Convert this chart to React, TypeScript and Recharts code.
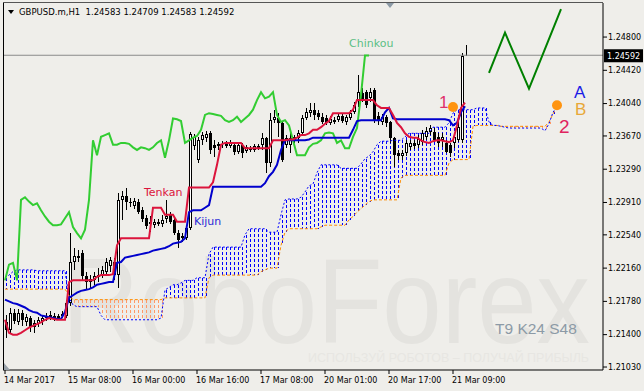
import React from 'react';
import { ComposedChart, Bar, Line, XAxis, YAxis, ReferenceLine, ReferenceDot, Label } from 'recharts';

// GBPUSD.m H1 with Ichimoku (T9 K24 S48)
const symbol = 'GBPUSD.m,H1';

const open = [
  1.2154, 1.2145, 1.2165, 1.2154, 1.2165, 1.2154, 1.2159, 1.2149, 1.2152, 1.2156,
  1.2159, 1.2160, 1.2161, 1.2159, 1.2161, 1.2161, 1.2176, 1.2223, 1.2230, 1.2233,
  1.2207, 1.2200, 1.2202, 1.2206, 1.2208, 1.2212, 1.2218, 1.2223, 1.2208, 1.2294,
  1.2298, 1.2292, 1.2287, 1.2292, 1.2282, 1.2273, 1.2269, 1.2265, 1.2269, 1.2266,
  1.2272, 1.2277, 1.2271, 1.2256, 1.2250, 1.2250, 1.2262, 1.2355, 1.2340, 1.2362,
  1.2365, 1.2370, 1.2357, 1.2358, 1.2357, 1.2358, 1.2355, 1.2357, 1.2349, 1.2357,
  1.2350, 1.2353, 1.2351, 1.2355, 1.2357, 1.2365, 1.2336, 1.2385, 1.2387, 1.2382,
  1.2357, 1.2357, 1.2362, 1.2365, 1.2370, 1.2387, 1.2393, 1.2397, 1.2393, 1.2389,
  1.2387, 1.2382, 1.2385, 1.2385, 1.2390, 1.2383, 1.2387, 1.2394, 1.2408, 1.2416,
  1.2417, 1.2410, 1.2420, 1.2390, 1.2383, 1.2389, 1.2383, 1.2365, 1.2347, 1.2344,
  1.2347, 1.2354, 1.2359, 1.2357, 1.2360, 1.2366, 1.2371, 1.2371, 1.2366, 1.2362,
  1.2359, 1.2357, 1.2359, 1.2362, 1.2362, 1.24583,
];
const close = [
  1.2145, 1.2165, 1.2156, 1.2165, 1.2157, 1.2160, 1.2149, 1.2153, 1.2157, 1.2159,
  1.2161, 1.2162, 1.2159, 1.2161, 1.2164, 1.2176, 1.2223, 1.2230, 1.2228, 1.2207,
  1.2200, 1.2204, 1.2207, 1.2208, 1.2214, 1.2223, 1.2225, 1.2208, 1.2294, 1.2298,
  1.2292, 1.2290, 1.2293, 1.2280, 1.2272, 1.2264, 1.2266, 1.2269, 1.2266, 1.2271,
  1.2275, 1.2269, 1.2256, 1.2248, 1.2253, 1.2262, 1.2369, 1.2366, 1.2362, 1.2368,
  1.2369, 1.2351, 1.2353, 1.2355, 1.2358, 1.2355, 1.2359, 1.2349, 1.2357, 1.2347,
  1.2354, 1.2351, 1.2355, 1.2353, 1.2365, 1.2336, 1.2385, 1.2389, 1.2382, 1.2340,
  1.2365, 1.2365, 1.2366, 1.2370, 1.2387, 1.2394, 1.2397, 1.2391, 1.2389, 1.2383,
  1.2382, 1.2386, 1.2383, 1.2390, 1.2384, 1.2389, 1.2393, 1.2402, 1.2417, 1.2409,
  1.2402, 1.2417, 1.2385, 1.2384, 1.2389, 1.2382, 1.2365, 1.2345, 1.2344, 1.2347,
  1.2359, 1.2359, 1.2355, 1.2363, 1.2370, 1.2373, 1.2376, 1.2362, 1.2359, 1.2366,
  1.2349, 1.2347, 1.2366, 1.2377, 1.2458, 1.24592,
];
const high = [
  1.2162, 1.2171, 1.2169, 1.2169, 1.2168, 1.2164, 1.2161, 1.2157, 1.2160, 1.2162,
  1.2165, 1.2167, 1.2165, 1.2164, 1.2167, 1.2180, 1.2256, 1.2239, 1.2237, 1.2237,
  1.2212, 1.2208, 1.2212, 1.2216, 1.2218, 1.2228, 1.2229, 1.2228, 1.2302, 1.2304,
  1.2308, 1.2296, 1.2296, 1.2295, 1.2286, 1.2277, 1.2275, 1.2272, 1.2272, 1.2277,
  1.2294, 1.2280, 1.2274, 1.2260, 1.2256, 1.2265, 1.2371, 1.2369, 1.2366, 1.2371,
  1.2373, 1.2373, 1.2362, 1.2360, 1.2361, 1.2361, 1.2362, 1.2360, 1.2359, 1.2359,
  1.2357, 1.2355, 1.2358, 1.2358, 1.2370, 1.2366, 1.2393, 1.2397, 1.2393, 1.2383,
  1.2368, 1.2370, 1.2368, 1.2374, 1.2391, 1.2399, 1.2405, 1.2405, 1.2397, 1.2393,
  1.2391, 1.2390, 1.2389, 1.2393, 1.2392, 1.2391, 1.2397, 1.2406, 1.2437, 1.2422,
  1.2420, 1.2422, 1.2422, 1.2394, 1.2392, 1.2391, 1.2384, 1.2366, 1.2351, 1.2351,
  1.2362, 1.2362, 1.2362, 1.2368, 1.2374, 1.2377, 1.2379, 1.2376, 1.2370, 1.2370,
  1.2362, 1.2359, 1.2370, 1.2383, 1.2462, 1.24709,
];
const low = [
  1.2136, 1.2142, 1.2152, 1.2151, 1.2150, 1.2150, 1.2143, 1.2142, 1.2149, 1.2151,
  1.2156, 1.2157, 1.2156, 1.2157, 1.2159, 1.2159, 1.2173, 1.2214, 1.2223, 1.2202,
  1.2191, 1.2193, 1.2197, 1.2200, 1.2205, 1.2207, 1.2212, 1.2202, 1.2193, 1.2271,
  1.2282, 1.2286, 1.2284, 1.2278, 1.2269, 1.2261, 1.2257, 1.2262, 1.2264, 1.2263,
  1.2268, 1.2266, 1.2254, 1.2239, 1.2246, 1.2248, 1.2260, 1.2351, 1.2336, 1.2357,
  1.2360, 1.2346, 1.2343, 1.2351, 1.2353, 1.2353, 1.2353, 1.2345, 1.2346, 1.2342,
  1.2347, 1.2349, 1.2349, 1.2351, 1.2351, 1.2325, 1.2331, 1.2382, 1.2366, 1.2337,
  1.2353, 1.2347, 1.2359, 1.2359, 1.2368, 1.2385, 1.2389, 1.2385, 1.2385, 1.2381,
  1.2379, 1.2379, 1.2381, 1.2383, 1.2382, 1.2379, 1.2385, 1.2392, 1.2400, 1.2406,
  1.2399, 1.2406, 1.2382, 1.2379, 1.2379, 1.2377, 1.2359, 1.2331, 1.2340, 1.2340,
  1.2344, 1.2351, 1.2352, 1.2353, 1.2357, 1.2362, 1.2368, 1.2360, 1.2354, 1.2354,
  1.2347, 1.2343, 1.2353, 1.2360, 1.2359, 1.24583,
];

const tenkan = [
  1.2157, 1.2142, 1.2140, 1.2140, 1.2142, 1.2145, 1.2148, 1.2150, 1.2152, 1.2154,
  1.2157, 1.2159, 1.2158, 1.2157, 1.2157, 1.2157, 1.2200, 1.2202, 1.2202, 1.2202,
  1.2202, 1.2202, 1.2202, 1.2206, 1.2208, 1.2208, 1.2208, 1.2209, 1.2242, 1.2250,
  1.2250, 1.2250, 1.2250, 1.2250, 1.2250, 1.2250, 1.2250, 1.2285, 1.2285, 1.2285,
  1.2277, 1.2277, 1.2277, 1.2269, 1.2269, 1.2269, 1.2308, 1.2308, 1.2308, 1.2308,
  1.2308, 1.2308, 1.2314, 1.2334, 1.2357, 1.2359, 1.2359, 1.2359, 1.2359, 1.2359,
  1.2353, 1.2353, 1.2353, 1.2353, 1.2353, 1.2353, 1.2353, 1.2362, 1.2362, 1.2362,
  1.2362, 1.2363, 1.2363, 1.2365, 1.2368, 1.2368, 1.2370, 1.2374, 1.2374, 1.2377,
  1.2381, 1.2384, 1.2393, 1.2393, 1.2393, 1.2393, 1.2393, 1.2397, 1.2408, 1.2408,
  1.2408, 1.2408, 1.2408, 1.2402, 1.2399, 1.2399, 1.2399, 1.2391, 1.2382, 1.2377,
  1.2370, 1.2366, 1.2365, 1.2365, 1.2362, 1.2360, 1.2359, 1.2361, 1.2362, 1.2362,
  1.2361, 1.2360, 1.2362, 1.2379, 1.2399, 1.2405,
];
const kijun = [
  1.2180, 1.2178, 1.2176, 1.2175, 1.2173, 1.2171, 1.2168, 1.2166, 1.2165, 1.2162,
  1.2161, 1.2160, 1.2159, 1.2158, 1.2158, 1.2166, 1.2182, 1.2185, 1.2188, 1.2190,
  1.2191, 1.2192, 1.2194, 1.2197, 1.2198, 1.2199, 1.2200, 1.2200, 1.2222, 1.2223,
  1.2228, 1.2229, 1.2230, 1.2231, 1.2232, 1.2233, 1.2234, 1.2236, 1.2237, 1.2238,
  1.2239, 1.2241, 1.2244, 1.2245, 1.2246, 1.2250, 1.2280, 1.2282, 1.2282, 1.2282,
  1.2285, 1.2288, 1.2309, 1.2309, 1.2309, 1.2309, 1.2309, 1.2309, 1.2309, 1.2309,
  1.2309, 1.2309, 1.2309, 1.2309, 1.2309, 1.2313, 1.2321, 1.2326, 1.2334, 1.2351,
  1.2362, 1.2362, 1.2362, 1.2362, 1.2362, 1.2362, 1.2363, 1.2365, 1.2365, 1.2365,
  1.2365, 1.2365, 1.2365, 1.2365, 1.2365, 1.2365, 1.2365, 1.2374, 1.2384, 1.2385,
  1.2385, 1.2385, 1.2385, 1.2385, 1.2385, 1.2394, 1.2399, 1.2387, 1.2386, 1.2386,
  1.2386, 1.2386, 1.2386, 1.2386, 1.2386, 1.2386, 1.2386, 1.2386, 1.2386, 1.2386,
  1.2386, 1.2385, 1.2379, 1.2382, 1.2394, 1.2401,
];
const chinkou = [
  1.2202, 1.2220, 1.2222, 1.2202, 1.2294, 1.2297, 1.2292, 1.2288, 1.2290, 1.2282,
  1.2275, 1.2269, 1.2265, 1.2265, 1.2266, 1.2273, 1.2280, 1.2263, 1.2256, 1.2250,
  1.2260, 1.2294, 1.2362, 1.2345, 1.2366, 1.2368, 1.2370, 1.2357, 1.2357, 1.2359,
  1.2359, 1.2358, 1.2354, 1.2351, 1.2354, 1.2353, 1.2351, 1.2354, 1.2359, 1.2362,
  1.2342, 1.2362, 1.2387, 1.2386, 1.2384, 1.2359, 1.2362, 1.2365, 1.2367, 1.2374,
  1.2391, 1.2393, 1.2392, 1.2391, 1.2390, 1.2385, 1.2383, 1.2385, 1.2389, 1.2383,
  1.2387, 1.2391, 1.2397, 1.2408, 1.2417, 1.2410, 1.2412, 1.2417, 1.2391, 1.2383,
  1.2385, 1.2379, 1.2362, 1.2345, 1.2345, 1.2345, 1.2354, 1.2358, 1.2359, 1.2362,
  1.2370, 1.2371, 1.2370, 1.2359, 1.2362, 1.2353, 1.2353, 1.2366, 1.2376, 1.2414,
  1.2459, 1.2459,
];
const spanA = [
  1.2205, 1.2208, 1.2212, 1.2214, 1.2214, 1.2214, 1.2214, 1.2214, 1.2213, 1.2213,
  1.2213, 1.2213, 1.2213, 1.2213, 1.2213, 1.2213, 1.2182, 1.2174, 1.2172, 1.2172,
  1.2172, 1.2172, 1.2172, 1.2172, 1.2162, 1.2157, 1.2157, 1.2157, 1.2157, 1.2157,
  1.2157, 1.2157, 1.2157, 1.2157, 1.2157, 1.2157, 1.2157, 1.2157, 1.2157, 1.2159,
  1.2191, 1.2194, 1.2197, 1.2197, 1.2199, 1.2202, 1.2202, 1.2202, 1.2205, 1.2205,
  1.2205, 1.2232, 1.2240, 1.2240, 1.2240, 1.2240, 1.2240, 1.2240, 1.2240, 1.2240,
  1.2254, 1.2261, 1.2261, 1.2261, 1.2261, 1.2261, 1.2257, 1.2257, 1.2257, 1.2277,
  1.2294, 1.2295, 1.2295, 1.2295, 1.2297, 1.2303, 1.2310, 1.2312, 1.2325, 1.2334,
  1.2334, 1.2334, 1.2334, 1.2334, 1.2330, 1.2330, 1.2330, 1.2330, 1.2330, 1.2335,
  1.2341, 1.2344, 1.2349, 1.2357, 1.2361, 1.2361, 1.2361, 1.2362, 1.2362, 1.2362,
  1.2366, 1.2370, 1.2370, 1.2370, 1.2370, 1.2370, 1.2370, 1.2377, 1.2377, 1.2377,
  1.2377, 1.2382, 1.2393, 1.2397, 1.2397, 1.2397, 1.2397, 1.2397, 1.2399, 1.2399,
  1.2399, 1.2383, 1.2379, 1.2379, 1.2378, 1.2377, 1.2376, 1.2376, 1.2376, 1.2376,
  1.2376, 1.2376, 1.2376, 1.2376, 1.2376, 1.2373, 1.2381, 1.2394, 1.2401,
];
const spanB = [
  1.2192, 1.2192, 1.2192, 1.2192, 1.2192, 1.2192, 1.2192, 1.2192, 1.2192, 1.2192,
  1.2192, 1.2192, 1.2192, 1.2192, 1.2192, 1.2192, 1.2185, 1.2180, 1.2180, 1.2180,
  1.2180, 1.2180, 1.2180, 1.2180, 1.2180, 1.2180, 1.2180, 1.2180, 1.2180, 1.2180,
  1.2180, 1.2180, 1.2180, 1.2180, 1.2180, 1.2180, 1.2180, 1.2180, 1.2180, 1.2180,
  1.2182, 1.2182, 1.2182, 1.2182, 1.2182, 1.2182, 1.2182, 1.2182, 1.2182, 1.2182,
  1.2182, 1.2205, 1.2208, 1.2208, 1.2208, 1.2208, 1.2208, 1.2208, 1.2208, 1.2208,
  1.2208, 1.2208, 1.2208, 1.2208, 1.2212, 1.2214, 1.2216, 1.2216, 1.2216, 1.2242,
  1.2257, 1.2261, 1.2261, 1.2261, 1.2261, 1.2261, 1.2261, 1.2261, 1.2261, 1.2263,
  1.2265, 1.2265, 1.2265, 1.2265, 1.2265, 1.2265, 1.2271, 1.2275, 1.2280, 1.2284,
  1.2288, 1.2292, 1.2294, 1.2294, 1.2294, 1.2294, 1.2294, 1.2294, 1.2294, 1.2319,
  1.2322, 1.2322, 1.2322, 1.2322, 1.2322, 1.2322, 1.2322, 1.2322, 1.2322, 1.2322,
  1.2322, 1.2336, 1.2340, 1.2340, 1.2340, 1.2340, 1.2340, 1.2378, 1.2379, 1.2379,
  1.2379, 1.2379, 1.2379, 1.2379, 1.2378, 1.2378, 1.2378, 1.2378, 1.2378, 1.2378,
  1.2378, 1.2378, 1.2378, 1.2378, 1.2378, 1.2378, 1.2383, 1.2392, 1.2401,
];

// hand drawn forecast zigzag
const forecastIdx = [121, 125, 131, 139];
const forecastVal = [1.2439, 1.2485, 1.2421, 1.2512];

const timeTickIdx = [0, 16, 32, 48, 64, 80, 96, 112];
const timeLabels = ['14 Mar 2017', '15 Mar 08:00', '16 Mar 00:00', '16 Mar 16:00', '17 Mar 08:00', '20 Mar 01:00', '20 Mar 17:00', '21 Mar 09:00'];
const priceTicks = [1.2103, 1.214, 1.2178, 1.2216, 1.2254, 1.2291, 1.2329, 1.2367, 1.2404, 1.2442, 1.248];
const lastPrice = 1.24592;
const SLOTS = 150;

const rows = Array.from({ length: SLOTS }, (_, i) => {
  const a = spanA[i];
  const b = spanB[i];
  const fi = forecastIdx.indexOf(i);
  return {
    i,
    o: open[i],
    h: high[i],
    l: low[i],
    c: close[i],
    hl: i < open.length ? [low[i], high[i]] : null,
    tenkan: tenkan[i] ?? null,
    kijun: kijun[i] ?? null,
    chinkou: chinkou[i] ?? null,
    spanA: a ?? null,
    spanB: b ?? null,
    cloud: a !== undefined && b !== undefined ? [Math.min(a, b), Math.max(a, b)] : null,
    forecast: fi >= 0 ? forecastVal[fi] : null,
  };
});

const Candle = (props: any) => {
  const { x, y, width, height, payload } = props;
  if (!payload || payload.o == null) return <g />;
  const top = Math.min(y, y + height);
  const bot = Math.max(y, y + height);
  const span = payload.h - payload.l;
  const toY = (v: number) => (span > 0 ? top + ((payload.h - v) / span) * (bot - top) : top);
  const cx = Math.round(x + width / 2);
  const yo = Math.round(toY(payload.o));
  const yc = Math.round(toY(payload.c));
  const bTop = Math.min(yo, yc);
  const bH = Math.max(1, Math.abs(yo - yc));
  const up = payload.c >= payload.o;
  return (
    <g>
      <line x1={cx + 0.5} x2={cx + 0.5} y1={Math.round(top)} y2={Math.round(bot)} stroke="#000" strokeWidth={1} />
      {up ? (
        <rect x={cx - 0.5} y={bTop + 0.5} width={2} height={Math.max(bH - 1, 0)} fill="#fff" stroke="#000" strokeWidth={1} />
      ) : (
        <rect x={cx - 1} y={bTop} width={3} height={bH} fill="#000" />
      )}
    </g>
  );
};

// one dotted histogram line per bar between the two spans
const CloudHatch = (props: any) => {
  const { x, y, width, height, payload } = props;
  if (!payload || payload.cloud == null) return <g />;
  const top = Math.round(Math.min(y, y + height));
  const bot = Math.round(Math.max(y, y + height));
  const cx = Math.round(x + width / 2);
  const bull = payload.spanA >= payload.spanB;
  return (
    <line
      x1={cx + 0.5}
      x2={cx + 0.5}
      y1={top}
      y2={bot}
      stroke={bull ? '#0000ff' : '#ff9966'}
      strokeWidth={1}
      strokeDasharray="3 2"
    />
  );
};

const TimeTick = ({ x, y, payload }: any) => {
  const k = timeTickIdx.indexOf(payload.value);
  return (
    <text x={x - 1} y={y + 7} fontSize={8} fontFamily="DejaVu Sans" fill="#000">
      {k >= 0 ? timeLabels[k] : ''}
    </text>
  );
};

const PriceTag = (props: any) => {
  const vb = props.viewBox || {};
  const x = (vb.x ?? 3) + (vb.width ?? 600);
  const y = vb.y ?? 55;
  return (
    <g>
      <rect x={x + 1} y={y - 6} width={39} height={13} fill="#000" />
      <text x={x + 4} y={y + 3.5} fontSize={8} fontFamily="DejaVu Sans" fill="#fff">{lastPrice.toFixed(5)}</text>
    </g>
  );
};

const BG = '#efeeea';
const font = 'DejaVu Sans';

export default function App() {
  const last = open.length - 1;
  const header = `${symbol}  ${open[last].toFixed(5)} ${high[last].toFixed(5)} ${low[last].toFixed(5)} ${close[last].toFixed(5)}`;
  return (
    <div style={{ position: 'relative', width: 644, height: 391, background: BG, overflow: 'hidden' }}>
      <style>{'body{margin:0}'}</style>

      {/* watermark */}
      <svg width={644} height={391} style={{ position: 'absolute', left: 0, top: 0 }}>
        <text x={62} y={343} fontSize={120} textLength={528} lengthAdjust="spacingAndGlyphs" fontFamily="Liberation Sans" fill="#e4e3df">RoboForex</text>
        <text x={308} y={362} fontSize={12.5} fontFamily="Liberation Sans" fill="#e7e6e2">ИСПОЛЬЗУЙ РОБОТОВ – ПОЛУЧАЙ ПРИБЫЛЬ</text>
      </svg>

      <div style={{ position: 'absolute', left: 0, top: 0 }}>
        <ComposedChart width={644} height={391} data={rows} margin={{ top: 3, right: 0, bottom: 0, left: 3 }} barCategoryGap={0}>
          <XAxis
            dataKey="i"
            type="category"
            ticks={timeTickIdx}
            interval={0}
            height={21}
            tick={<TimeTick />}
            tickSize={4}
            tickMargin={2}
            axisLine={{ stroke: '#000' }}
            tickLine={{ stroke: '#000' }}
          />
          <XAxis xAxisId="cloud" dataKey="i" type="category" hide />
          <YAxis
            orientation="right"
            width={41}
            type="number"
            domain={[1.20996, 1.25189]}
            allowDataOverflow
            ticks={priceTicks}
            interval={0}
            tickFormatter={(v: number) => v.toFixed(5)}
            tick={{ fontSize: 8, fontFamily: font, fill: '#000' }}
            tickSize={4}
            tickMargin={1}
            axisLine={{ stroke: '#000' }}
            tickLine={{ stroke: '#000' }}
          />
          <Bar xAxisId="cloud" dataKey="cloud" barSize={1} shape={CloudHatch} isAnimationActive={false} />
          <Line dataKey="spanB" type="linear" stroke="#ff8c00" strokeWidth={1} strokeDasharray="3 2" dot={false} activeDot={false} isAnimationActive={false} />
          <Line dataKey="spanA" type="linear" stroke="#0000ff" strokeWidth={1} strokeDasharray="2 2" dot={false} activeDot={false} isAnimationActive={false} />
          <ReferenceLine y={lastPrice} stroke="#8a8a8a" strokeWidth={1}>
            <Label content={PriceTag} />
          </ReferenceLine>
          <Bar dataKey="hl" barSize={3} shape={Candle} isAnimationActive={false} />
          <Line dataKey="chinkou" type="linear" stroke="#32cd32" strokeWidth={2} dot={false} activeDot={false} isAnimationActive={false} />
          <Line dataKey="kijun" type="linear" stroke="#0000cd" strokeWidth={2} dot={false} activeDot={false} isAnimationActive={false} />
          <Line dataKey="tenkan" type="linear" stroke="#dc143c" strokeWidth={2} dot={false} activeDot={false} isAnimationActive={false} />
          <Line dataKey="forecast" type="linear" stroke="#008000" strokeWidth={2} dot={false} activeDot={false} connectNulls isAnimationActive={false} />
          <ReferenceDot x={112} y={1.24} r={5} fill="#ff9410" stroke="none" />
          <ReferenceDot x={138} y={1.2402} r={5} fill="#ff9410" stroke="none" />
        </ComposedChart>
      </div>

      {/* frame, header and annotations */}
      <svg width={644} height={391} style={{ position: 'absolute', left: 0, top: 0, pointerEvents: 'none' }}>
        <line x1={3.5} y1={3} x2={3.5} y2={370} stroke="#000" />
        <line x1={3} y1={2.5} x2={603} y2={2.5} stroke="#555" />
        <polygon points="8,10 14,10 11,14" fill="#000" />
        <text x={19} y={15} fontSize={8.5} fontFamily={font} fill="#000" style={{ whiteSpace: 'pre' }}>{header}</text>
        <polygon points="386,3 394,3 390,8" fill="#8c9aa6" />
        <polygon points="4,363 4,370 10,370" fill="#9aa3ab" />
        <text x={349} y={47} fontSize={11} fontFamily={font} fill="#5dbf85">Chinkou</text>
        <text x={144} y={196} fontSize={11} fontFamily={font} fill="#dc143c">Tenkan</text>
        <text x={194} y={225} fontSize={11} fontFamily={font} fill="#2b2bd6">Kijun</text>
        <text x={439} y={108} fontSize={17} fontFamily="Liberation Sans" fill="#e0306a">1</text>
        <text x={559} y={133} fontSize={19} fontFamily="Liberation Sans" fill="#e0245e">2</text>
        <text x={574} y={98} fontSize={17} fontFamily="Liberation Sans" fill="#1a1ae6">A</text>
        <text x={575} y={115} fontSize={17} fontFamily="Liberation Sans" fill="#e8a838">B</text>
        <text x={495} y={334} fontSize={15.5} fontFamily="Liberation Sans" fill="#8c9aa6">T9 K24 S48</text>
      </svg>
    </div>
  );
}
